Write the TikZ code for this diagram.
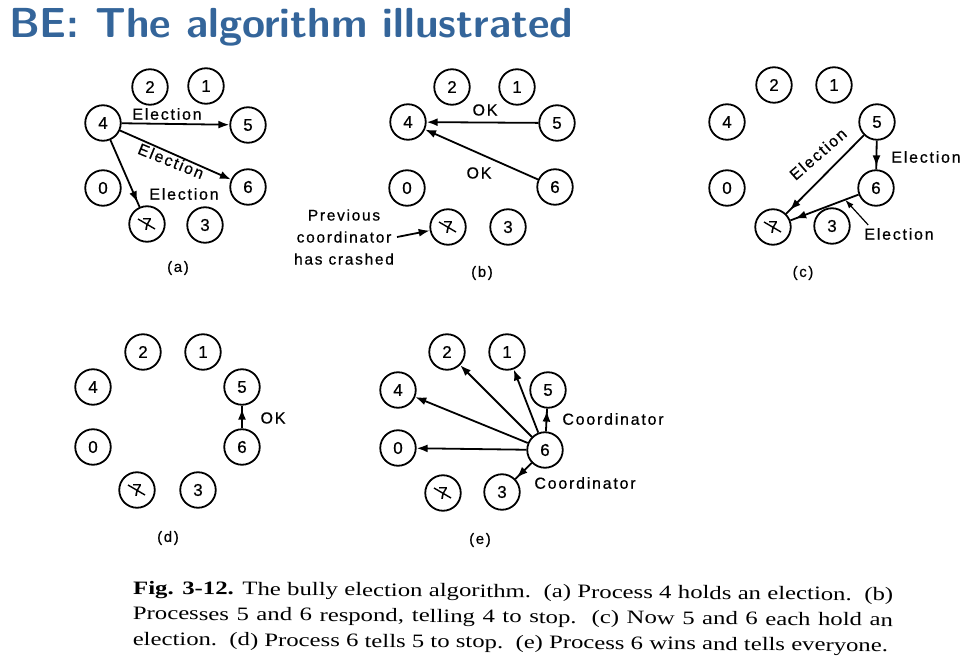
\documentclass[tikz,border=0pt]{standalone}
\usepackage{fontspec}
\setmainfont[FakeStretch=1.3]{Liberation Serif}
\newfontfamily\labfont[LetterSpace=11,FakeBold=0.6]{Liberation Sans}
\newfontfamily\digfont[FakeBold=0.6]{Liberation Sans}
\usetikzlibrary{arrows.meta,decorations.markings,calc}
\definecolor{titleblue}{RGB}{52,101,154}

\tikzset{
  proc/.style={circle, draw, line width=1.8pt, minimum size=35.5pt, inner sep=0pt,
    font=\digfont\fontsize{17}{17}\selectfont},
  msg/.style={inner sep=1pt, font=\labfont\fontsize{16}{16}\selectfont},
  panel/.style={font=\labfont\fontsize{15}{15}\selectfont},
  conn/.style={line width=1.8pt},
  arr/.style={conn, -{Latex[length=11pt,width=8pt]}},
  arrmid/.style={conn, decoration={markings,
      mark=at position #1 with {\arrow{Latex[length=11pt,width=8pt]}}},
    postaction=decorate},
  thinarr/.style={line width=1.2pt, -{Latex[length=9pt,width=6pt]}},
  cross/.style={line width=1.4pt}
}

\begin{document}
\begin{tikzpicture}[x=1pt,y=-1pt]
\useasboundingbox (0,0) rectangle (980,668);

% heading
\node[anchor=base west, inner sep=0pt, text=titleblue,
  font=\sffamily\bfseries\fontsize{42}{44}\selectfont] (title) at (9,38)
  {BE: The algorithm illustrated};

% ---------- (a) ----------
\node[proc] (a2) at (150,87) {2};
\node[proc] (a1) at (206,86) {1};
\node[proc] (a4) at (103,123) {4};
\node[proc] (a5) at (248,125) {5};
\node[proc] (a0) at (103,188) {0};
\node[proc] (a6) at (248,187) {6};
\node[proc] (a7) at (147,224) {7};
\node[proc] (a3) at (205,225) {3};
\draw[cross] ([shift={(-9,-5)}]a7.center) -- ([shift={(8,5)}]a7.center);
\draw[arr] (a4) -- (a5);
\draw[arr] (a4) -- (a6);
\draw[arrmid=-5pt] (a4) -- (a7);
\node[msg] (la1) at (167,114) {Election};
\node[msg, rotate=-22] (la2) at (171,161) {Election};
\node[msg] (la3) at (184,194) {Election};
\node[panel] (pa) at (178,268) {(a)};

% ---------- (b) ----------
\node[proc] (b2) at (452,87) {2};
\node[proc] (b1) at (517,87) {1};
\node[proc] (b4) at (408,122) {4};
\node[proc] (b5) at (557,123) {5};
\node[proc] (b0) at (407,188) {0};
\node[proc] (b6) at (555,187) {6};
\node[proc] (b7) at (448,227) {7};
\node[proc] (b3) at (508,227) {3};
\draw[cross] ([shift={(-9,-5)}]b7.center) -- ([shift={(8,5)}]b7.center);
\draw[arr] (b5) -- (b4);
\draw[arr] (b6) -- (b4);
\node[msg] (lb1) at (485,110) {OK};
\node[msg] (lb2) at (479,173) {OK};
\node[align=center, inner sep=1pt,
  font=\labfont\fontsize{15.5}{22}\selectfont] (note) at (344,237)
  {Previous\\coordinator\\has crashed};
\draw[arr] ([xshift=2pt]note.east) -- (b7);
\node[panel] (pb) at (482,273) {(b)};

% ---------- (c) ----------
\node[proc] (c2) at (774,85) {2};
\node[proc] (c1) at (834,85) {1};
\node[proc] (c4) at (727,122) {4};
\node[proc] (c5) at (877,122) {5};
\node[proc] (c0) at (727,188) {0};
\node[proc] (c6) at (876,188) {6};
\node[proc] (c7) at (773,227) {7};
\node[proc] (c3) at (832,226) {3};
\draw[cross] ([shift={(-9,-5)}]c7.center) -- ([shift={(8,5)}]c7.center);
\draw[arrmid=-3pt] (c5) -- (c6);
\draw[arrmid=-5pt] (c5) -- (c7);
\draw[arrmid=-5pt] (c6) -- (c7);
\node[msg, rotate=41] (lc1) at (818,154) {Election};
\node[msg] (lc2) at (926,157) {Election};
\node[msg] (lc3) at (899,234) {Election};
\coordinate (c67) at ($(c6)!0.3!(c7)$);
\draw[thinarr] ([xshift=5pt,yshift=2pt]lc3.north west) -- (c67);
\node[panel] (pc) at (803,273) {(c)};

% ---------- (d) ----------
\node[proc] (d2) at (143,352) {2};
\node[proc] (d1) at (203,352) {1};
\node[proc] (d4) at (93,387) {4};
\node[proc] (d5) at (242,387) {5};
\node[proc] (d0) at (93,447) {0};
\node[proc] (d6) at (242,447) {6};
\node[proc] (d7) at (137,490) {7};
\node[proc] (d3) at (198,490) {3};
\draw[cross] ([shift={(-9,-5)}]d7.center) -- ([shift={(8,5)}]d7.center);
\draw[arrmid=-3pt] (d6) -- (d5);
\node[msg] (ld1) at (273,418) {OK};
\node[panel] (pd) at (168,538) {(d)};

% ---------- (e) ----------
\node[proc] (e2) at (447,352) {2};
\node[proc] (e1) at (507,352) {1};
\node[proc] (e4) at (398,390) {4};
\node[proc] (e5) at (548,390) {5};
\node[proc] (e0) at (398,448) {0};
\node[proc] (e6) at (545,450) {6};
\node[proc] (e7) at (443,493) {7};
\node[proc] (e3) at (502,492) {3};
\draw[cross] ([shift={(-9,-5)}]e7.center) -- ([shift={(8,5)}]e7.center);
\draw[arr] (e6) -- (e0);
\draw[arr] (e6) -- (e4);
\draw[arr] (e6) -- (e2);
\draw[arr] (e6) -- (e1);
\draw[arrmid=-2pt] (e6) -- (e5);
\draw[arrmid=-2pt] (e6) -- (e3);
\node[msg] (le1) at (613,419) {Coordinator};
\node[msg] (le2) at (585,483) {Coordinator};
\node[panel] (pe) at (480,540) {(e)};

% ---------- caption ----------
\node[anchor=base west, inner sep=0pt, rotate=-0.5] (cap) at (133,594)
  {\parbox[t]{760pt}{\fontsize{19}{25.5}\selectfont
   \textbf{Fig. 3-12.} The bully election algorithm.\ \ (a) Process 4 holds an election.\ \ (b)\linebreak
   Processes 5 and 6 respond, telling 4 to stop.\ \ (c) Now 5 and 6 each hold an\linebreak
   election.\ \ (d) Process 6 tells 5 to stop.\ \ (e) Process 6 wins and tells everyone.}};
\end{tikzpicture}
\end{document}
